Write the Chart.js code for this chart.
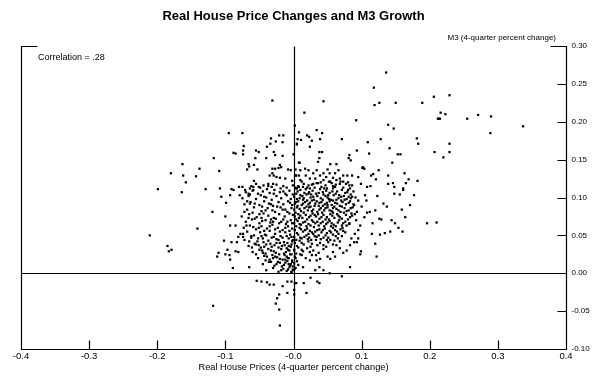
<!DOCTYPE html>
<html>
<head>
<meta charset="utf-8">
<script src="https://cdn.jsdelivr.net/npm/chart.js@4.4.0/dist/chart.umd.min.js"></script>
<style>
  body { margin: 0; background: #fff; }
  canvas { display: block; }
</style>
</head>
<body>
<canvas id="chart" width="600" height="388"></canvas>
<script>
// axis ticks
const xTicks = [-0.4, -0.3, -0.2, -0.1, 0, 0.1, 0.2, 0.3, 0.4];
const xTickLabels = ["-0.4", "-0.3", "-0.2", "-0.1", "-0.0", "0.1", "0.2", "0.3", "0.4"];
const yTicks = [-0.10, -0.05, 0, 0.05, 0.10, 0.15, 0.20, 0.25, 0.30];
const yTickLabels = ["-0.10", "-0.05", "0.00", "0.05", "0.10", "0.15", "0.20", "0.25", "0.30"];

// [house price change, M3 growth]
const upperLeft = [
  [-0.031,0.228],[-0.095,0.185],[-0.075,0.185],[0.002,0.195],[0.008,0.186],[-0.021,0.182],[-0.015,0.182],
  [-0.033,0.178],[-0.026,0.174],[-0.016,0.173],[0.006,0.177],[0.005,0.170],[-0.073,0.168],[-0.074,0.162],
  [-0.088,0.159],[-0.085,0.158],[-0.074,0.157],[-0.055,0.162],[-0.051,0.160],[-0.039,0.167],[-0.029,0.160],
  [-0.027,0.156],[-0.016,0.155],[0.000,0.157],[-0.056,0.152],[-0.040,0.152],[-0.117,0.152],[-0.163,0.144],
  [-0.138,0.138],[-0.109,0.135],[-0.180,0.132],[-0.162,0.129],[-0.143,0.128],[-0.158,0.120],[-0.066,0.144],
  [-0.065,0.141],[-0.058,0.143],[-0.068,0.137],[-0.053,0.137],[-0.031,0.138],[-0.027,0.138],[-0.022,0.139],
  [-0.008,0.137],[-0.004,0.136],[0.003,0.137],[0.008,0.146],[-0.035,0.129],[-0.031,0.132],[-0.029,0.129],
  [-0.025,0.127],[-0.020,0.126],[-0.012,0.125],[-0.002,0.122],[0.003,0.129],[0.008,0.129],[-0.058,0.122],
  [-0.037,0.115],[-0.030,0.118],[-0.025,0.117],[-0.015,0.115],[-0.051,0.114],[-0.059,0.114],[-0.062,0.115],
  [-0.075,0.114],[-0.080,0.114],[-0.108,0.112],[-0.129,0.111],[-0.091,0.111],[-0.199,0.111],[0.003,0.113],
  [-0.034,0.171],[-0.020,0.143],[-0.018,0.140],
  [-0.164,0.107],[-0.106,0.101],[-0.093,0.103],[-0.088,0.110],[-0.079,0.103],[-0.071,0.110],[-0.066,0.105],
  [-0.059,0.110],[-0.064,0.092],[-0.099,0.093],[-0.119,0.081],[-0.100,0.075],[-0.141,0.059],[-0.093,0.063],
  [-0.085,0.063],[-0.211,0.050],[-0.185,0.036],[-0.179,0.031],[-0.183,0.029],[-0.102,0.043],[-0.091,0.041],
  [-0.083,0.041],[-0.081,0.048],[-0.074,0.052],[-0.110,0.027],[-0.112,0.022],[-0.097,0.031],[-0.100,0.025],
  [-0.094,0.024],[-0.093,0.018],[-0.085,0.029],[-0.081,0.028],[-0.089,0.007],[-0.118,-0.043],[-0.065,0.008],
  [-0.064,0.112],[-0.055,0.118],[-0.049,0.113],[-0.044,0.116],[-0.039,0.111],[-0.037,0.118],[-0.032,0.114],
  [-0.019,0.112],[-0.010,0.113],[-0.001,0.116],[0.005,0.112]
];

const upperRight = [
  [0.136,0.265],[0.118,0.245],[0.044,0.227],[0.016,0.212],[0.119,0.222],[0.126,0.225],[0.150,0.225],
  [0.189,0.225],[0.206,0.233],[0.213,0.204],[0.092,0.202],[0.139,0.196],[0.147,0.191],[0.034,0.189],
  [0.042,0.185],[0.020,0.182],[0.023,0.180],[0.027,0.175],[0.011,0.176],[0.005,0.171],[0.039,0.177],
  [0.071,0.177],[0.024,0.167],[0.109,0.173],[0.128,0.177],[0.181,0.178],[0.183,0.171],[0.207,0.160],
  [0.141,0.165],[0.093,0.162],[0.111,0.158],[0.038,0.160],[0.042,0.160],[0.153,0.157],[0.157,0.157],
  [0.082,0.156],[0.081,0.152],[0.084,0.149],[0.038,0.152],[0.036,0.147],[0.145,0.146],[0.009,0.146],
  [0.054,0.144],[0.063,0.144],[0.102,0.140],[0.104,0.138],[0.101,0.139],[0.125,0.136],[0.163,0.132],
  [0.114,0.129],[0.117,0.131],[0.086,0.129],[0.079,0.129],[0.095,0.127],[0.121,0.124],[0.139,0.129],
  [0.169,0.124],[0.165,0.119],[0.182,0.122],[0.146,0.119],[0.139,0.118],[0.099,0.118],[0.082,0.116],
  [0.108,0.114],[0.113,0.115],[0.148,0.114],[0.161,0.112],
  [0.004,0.129],[0.010,0.136],[0.017,0.138],[0.022,0.136],[0.018,0.129],[0.024,0.125],[0.029,0.132],
  [0.034,0.136],[0.039,0.129],[0.044,0.132],[0.050,0.137],[0.053,0.132],[0.058,0.126],[0.061,0.132],
  [0.066,0.136],[0.068,0.125],[0.063,0.123],[0.054,0.121],[0.044,0.123],[0.036,0.119],[0.029,0.118],
  [0.022,0.116],[0.014,0.114],[0.007,0.115],[0.024,0.112],[0.041,0.114],[0.049,0.112],[0.058,0.115],
  [0.068,0.118],[0.073,0.121],[0.010,0.123],[0.073,0.129],[0.032,0.125],[0.048,0.127],
  [0.229,0.235],[0.216,0.212],[0.223,0.210],[0.212,0.204],[0.215,0.204],[0.255,0.204],[0.271,0.209],
  [0.290,0.207],[0.337,0.194],[0.289,0.185],[0.229,0.171],[0.229,0.160],[0.220,0.153],[0.161,0.110]
];

const lowerRight = [
  [0.105,0.103],[0.123,0.102],[0.148,0.105],[0.156,0.104],[0.177,0.103],[0.132,0.092],[0.137,0.088],
  [0.171,0.090],[0.112,0.081],[0.108,0.080],[0.120,0.083],[0.159,0.084],[0.126,0.072],[0.129,0.071],
  [0.144,0.070],[0.149,0.066],[0.164,0.074],[0.196,0.066],[0.210,0.067],[0.154,0.060],[0.160,0.055],
  [0.116,0.066],[0.115,0.052],[0.127,0.051],[0.134,0.053],[0.142,0.055],[0.120,0.039],[0.122,0.022],
  [0.098,0.025],[0.099,0.029],[0.093,0.041],[0.095,0.046],[0.083,0.008],[0.073,0.027],[0.061,0.022],
  [0.071,-0.004],[0.053,0.000],[0.044,0.004],[0.038,0.008],[0.032,0.004],[0.034,0.017],[0.039,0.019],
  [0.024,0.017],[0.012,0.024],[0.014,0.008],[0.007,0.011],[0.025,-0.006],[0.035,-0.011],[0.038,-0.013],
  [0.015,-0.013],[0.002,-0.013],[0.019,-0.026],[0.001,-0.022],[0.001,-0.028],
  [0.095,0.057],[0.090,0.052],[0.098,0.063],[0.085,0.046],[0.089,0.041],[0.083,0.037],[0.078,0.030],
  [0.068,0.033],[0.058,0.028],[0.063,0.037],[0.054,0.019],[0.050,0.022],
  [0.080,0.110],[0.084,0.099],[0.088,0.091],[0.095,0.096],[0.100,0.088],[0.104,0.074],[0.085,0.079],
  [0.092,0.070],[0.082,0.066],[0.093,0.081],[0.107,0.096]
];

const belowZero = [
  [-0.054,-0.010],[-0.047,-0.011],[-0.039,-0.012],[-0.035,-0.015],[-0.029,-0.015],[-0.016,-0.017],
  [-0.009,-0.011],[-0.003,-0.011],[0.004,-0.013],[-0.021,-0.028],[-0.024,-0.033],[-0.026,-0.040],
  [-0.021,-0.048],[-0.020,-0.069],[-0.009,-0.026]
];

const coreLeft = [
  [-0.070,0.107],[-0.060,0.109],[-0.052,0.105],[-0.045,0.108],[-0.035,0.106],[-0.028,0.110],[-0.020,0.107],[-0.012,0.105],[-0.006,0.109],
  [-0.075,0.099],[-0.066,0.102],[-0.055,0.098],[-0.048,0.103],[-0.040,0.100],[-0.032,0.097],[-0.025,0.102],[-0.018,0.099],[-0.010,0.103],[-0.004,0.098],
  [-0.072,0.091],[-0.063,0.094],[-0.050,0.090],[-0.043,0.095],[-0.036,0.092],[-0.030,0.089],[-0.022,0.094],[-0.015,0.091],[-0.008,0.095],[-0.002,0.090],
  [-0.068,0.084],[-0.058,0.087],[-0.047,0.082],[-0.038,0.086],[-0.031,0.083],[-0.024,0.088],[-0.016,0.084],[-0.009,0.081],[-0.003,0.086],
  [-0.076,0.075],[-0.065,0.078],[-0.054,0.074],[-0.044,0.079],[-0.037,0.076],[-0.029,0.073],[-0.021,0.078],[-0.013,0.075],[-0.006,0.079],
  [-0.070,0.068],[-0.061,0.071],[-0.050,0.066],[-0.041,0.070],[-0.034,0.067],[-0.026,0.072],[-0.018,0.068],[-0.011,0.065],[-0.004,0.070],
  [-0.073,0.060],[-0.064,0.063],[-0.055,0.058],[-0.047,0.062],[-0.039,0.059],[-0.031,0.064],[-0.023,0.060],[-0.016,0.057],[-0.008,0.062],[-0.002,0.059],
  [-0.078,0.052],[-0.068,0.055],[-0.058,0.050],[-0.049,0.054],[-0.042,0.051],[-0.035,0.056],[-0.027,0.052],[-0.019,0.049],[-0.012,0.054],[-0.005,0.051],
  [-0.072,0.044],[-0.062,0.047],[-0.053,0.042],[-0.045,0.046],[-0.037,0.043],[-0.029,0.048],[-0.022,0.044],[-0.014,0.041],[-0.007,0.046],
  [-0.066,0.036],[-0.057,0.039],[-0.048,0.034],[-0.040,0.038],[-0.032,0.035],[-0.025,0.040],[-0.017,0.036],[-0.010,0.033],[-0.003,0.038],
  [-0.060,0.028],[-0.050,0.031],[-0.041,0.026],[-0.033,0.030],[-0.026,0.027],[-0.018,0.032],[-0.011,0.028],[-0.005,0.025],
  [-0.052,0.020],[-0.043,0.023],[-0.035,0.018],[-0.027,0.022],[-0.020,0.019],[-0.013,0.024],[-0.007,0.020],[-0.002,0.017],
  [-0.045,0.012],[-0.036,0.015],[-0.028,0.010],[-0.020,0.014],[-0.014,0.011],[-0.009,0.016],[-0.004,0.012],[-0.001,0.009],
  [-0.040,0.004],[-0.030,0.007],[-0.022,0.002],[-0.015,0.006],[-0.010,0.003],[-0.006,0.008],[-0.003,0.001],
  [-0.006,0.030],[-0.003,0.025],[-0.008,0.020],[-0.002,0.015],[-0.005,0.010],[-0.001,0.005],[-0.004,0.035],
  [-0.009,0.040],[-0.002,0.042],[-0.007,0.012],[-0.003,0.002],[0.002,0.006],[0.001,0.030],[0.003,0.020],
  [-0.057,0.072],[-0.046,0.069],[-0.033,0.071],[-0.021,0.066],[-0.009,0.068],
  [-0.059,0.061],[-0.043,0.056],[-0.027,0.058],[-0.012,0.060],
  [-0.062,0.049],[-0.052,0.046],[-0.040,0.050],[-0.025,0.045],[-0.016,0.047],[-0.003,0.048],
  [-0.055,0.038],[-0.044,0.041],[-0.034,0.039],[-0.020,0.040],[-0.013,0.037],
  [-0.046,0.030],[-0.037,0.032],[-0.029,0.029],[-0.022,0.034],[-0.014,0.026],[-0.008,0.031],
  [-0.039,0.022],[-0.031,0.024],[-0.024,0.021],[-0.016,0.018],[-0.010,0.022],
  [-0.033,0.015],[-0.025,0.012],[-0.017,0.009],[-0.012,0.014],
  [-0.064,0.104],[-0.043,0.101],[-0.029,0.105],[-0.015,0.108],[-0.001,0.104],
  [-0.068,0.095],[-0.057,0.092],[-0.046,0.088],[-0.033,0.091],[-0.019,0.087],[-0.005,0.093],
  [-0.072,0.081],[-0.060,0.080],[-0.050,0.078],[-0.041,0.083],[-0.027,0.081],[-0.012,0.084],[-0.001,0.077],
  [-0.066,0.073],[-0.047,0.073],[-0.030,0.068],[-0.015,0.071],[-0.002,0.066],
  [-0.069,0.063],[-0.051,0.060],[-0.035,0.062],[-0.020,0.055],[-0.006,0.056],
  [-0.074,0.048],[-0.065,0.042],[-0.047,0.049],[-0.032,0.047],[-0.010,0.049],[-0.001,0.044],
  [-0.061,0.034],[-0.051,0.037],[-0.043,0.035],[-0.028,0.037],[-0.007,0.036],
  [-0.055,0.025],[-0.045,0.027],[-0.030,0.020],[-0.021,0.025],[-0.012,0.018],
  [-0.041,0.017],[-0.023,0.015],[-0.008,0.005],[-0.018,0.004]
];

const coreRight = [
  [0.012,0.121],[0.027,0.117],[0.040,0.120],[0.047,0.116],[0.056,0.119],[0.062,0.117],[0.069,0.121],[0.077,0.118],[0.086,0.116],
  [0.003,0.112],[0.006,0.108],[0.010,0.110],[0.016,0.106],[0.020,0.113],[0.023,0.107],[0.028,0.109],[0.033,0.105],[0.039,0.111],
  [0.043,0.107],[0.048,0.109],[0.053,0.106],[0.058,0.112],[0.064,0.108],[0.071,0.110],[0.076,0.106],[0.083,0.112],[0.088,0.108],
  [0.001,0.101],[0.005,0.098],[0.010,0.103],[0.015,0.099],[0.019,0.104],[0.025,0.100],[0.030,0.097],[0.035,0.102],[0.040,0.099],
  [0.044,0.104],[0.050,0.100],[0.055,0.097],[0.059,0.103],[0.066,0.099],[0.074,0.102],[0.078,0.098],[0.084,0.104],[0.091,0.100],
  [0.002,0.092],[0.007,0.095],[0.012,0.090],[0.017,0.094],[0.022,0.091],[0.027,0.096],[0.032,0.092],[0.037,0.089],[0.041,0.094],
  [0.046,0.091],[0.053,0.095],[0.056,0.090],[0.061,0.093],[0.068,0.089],[0.072,0.094],[0.077,0.091],[0.083,0.095],[0.089,0.090],
  [0.001,0.084],[0.005,0.087],[0.011,0.082],[0.016,0.086],[0.021,0.083],[0.025,0.088],[0.029,0.084],[0.035,0.081],[0.040,0.086],
  [0.045,0.083],[0.050,0.087],[0.056,0.082],[0.063,0.085],[0.069,0.081],[0.075,0.086],[0.081,0.083],[0.087,0.087],
  [0.002,0.075],[0.007,0.078],[0.013,0.073],[0.018,0.077],[0.023,0.074],[0.028,0.079],[0.033,0.075],[0.038,0.072],[0.044,0.077],
  [0.049,0.074],[0.054,0.078],[0.060,0.073],[0.066,0.076],[0.071,0.072],[0.077,0.077],[0.083,0.074],[0.090,0.078],
  [0.001,0.066],[0.006,0.069],[0.011,0.064],[0.017,0.068],[0.022,0.065],[0.027,0.070],[0.032,0.066],[0.037,0.063],[0.043,0.068],
  [0.048,0.065],[0.053,0.069],[0.059,0.064],[0.065,0.067],[0.071,0.063],[0.076,0.068],[0.082,0.065],
  [0.002,0.057],[0.009,0.060],[0.014,0.055],[0.020,0.059],[0.024,0.056],[0.030,0.061],[0.035,0.057],[0.041,0.054],[0.046,0.059],
  [0.053,0.056],[0.058,0.060],[0.064,0.055],[0.069,0.058],[0.076,0.054],
  [0.001,0.048],[0.007,0.051],[0.012,0.046],[0.019,0.050],[0.023,0.047],[0.029,0.052],[0.034,0.048],[0.040,0.045],[0.047,0.050],
  [0.051,0.047],[0.058,0.051],[0.065,0.046],[0.071,0.049],
  [0.002,0.040],[0.009,0.043],[0.015,0.038],[0.022,0.042],[0.027,0.039],[0.033,0.044],[0.039,0.040],[0.044,0.037],[0.051,0.041],[0.058,0.038],
  [0.001,0.031],[0.007,0.034],[0.014,0.029],[0.020,0.033],[0.029,0.030],[0.037,0.027],[0.044,0.032],
  [0.002,0.022],[0.010,0.025],[0.018,0.020],[0.027,0.024],[0.001,0.013],[0.005,0.016],[0.000,0.004],[0.003,0.007],
  [0.008,0.114],[0.018,0.111],[0.031,0.113],[0.045,0.112],[0.061,0.114],[0.073,0.113],
  [0.004,0.105],[0.013,0.102],[0.022,0.105],[0.037,0.106],[0.051,0.103],[0.062,0.105],[0.070,0.101],[0.081,0.101],
  [0.004,0.094],[0.014,0.097],[0.024,0.093],[0.034,0.095],[0.043,0.097],[0.049,0.093],[0.058,0.096],[0.064,0.092],[0.075,0.097],
  [0.003,0.080],[0.009,0.085],[0.019,0.088],[0.027,0.082],[0.038,0.084],[0.047,0.086],[0.053,0.083],[0.060,0.088],[0.066,0.083],[0.078,0.082],
  [0.004,0.071],[0.010,0.076],[0.020,0.071],[0.031,0.077],[0.041,0.074],[0.052,0.071],[0.057,0.076],[0.068,0.074],[0.080,0.071],
  [0.004,0.062],[0.014,0.067],[0.025,0.063],[0.035,0.068],[0.045,0.062],[0.056,0.066],[0.062,0.062],[0.073,0.066],
  [0.005,0.053],[0.017,0.057],[0.027,0.054],[0.038,0.058],[0.049,0.053],[0.061,0.057],[0.072,0.060],
  [0.004,0.044],[0.016,0.048],[0.026,0.044],[0.037,0.050],[0.054,0.044],[0.062,0.049],
  [0.015,0.118],[0.034,0.119],[0.052,0.121],[0.080,0.120],
  [0.026,0.104],[0.047,0.102],[0.057,0.108],[0.067,0.103],[0.079,0.107],[0.086,0.101],
  [0.009,0.099],[0.020,0.096],[0.029,0.101],[0.038,0.093],[0.052,0.098],[0.063,0.097],[0.070,0.096],[0.081,0.093],
  [0.006,0.089],[0.014,0.092],[0.023,0.087],[0.031,0.089],[0.043,0.089],[0.050,0.090],[0.058,0.086],[0.071,0.088],[0.084,0.086],
  [0.008,0.073],[0.015,0.080],[0.025,0.076],[0.036,0.078],[0.042,0.080],[0.047,0.071],[0.058,0.080],[0.064,0.078],[0.074,0.080],[0.086,0.076],
  [0.009,0.065],[0.019,0.062],[0.029,0.068],[0.040,0.066],[0.050,0.067],[0.055,0.062],[0.067,0.070],[0.078,0.063],
  [0.011,0.058],[0.022,0.052],[0.032,0.055],[0.043,0.057],[0.055,0.054],[0.066,0.052],[0.073,0.056],
  [0.010,0.047],[0.021,0.045],[0.031,0.049],[0.044,0.047],[0.049,0.044],[0.060,0.043],[0.068,0.042],
  [0.005,0.036],[0.012,0.040],[0.025,0.035],[0.035,0.037],[0.048,0.035],
  [0.004,0.026],[0.012,0.031],[0.024,0.028],[0.033,0.024]
];

const observations = [...upperLeft, ...upperRight, ...lowerRight, ...belowZero, ...coreLeft, ...coreRight]
  .map(([x, y]) => ({ x, y }));

const FONT = "'Liberation Sans', Arial, sans-serif";

// axes, inner ticks, zero lines and texts
const frame = {
  id: "frame",
  afterDatasetsDraw(chart) {
    const { ctx, chartArea: { left, right, top, bottom }, scales: { x, y } } = chart;
    const x0 = Math.round(x.getPixelForValue(0)) + 0.5;
    const y0 = Math.round(y.getPixelForValue(0)) + 0.5;
    const l = Math.round(left) + 0.5, r = Math.round(right) + 0.5;
    const t = Math.round(top) + 0.5, b = Math.round(bottom) + 0.5;

    ctx.save();
    ctx.strokeStyle = "#000";
    ctx.lineWidth = 1.2;
    ctx.beginPath();
    ctx.moveTo(l + 16, t); ctx.lineTo(l, t); ctx.lineTo(l, b); ctx.lineTo(r, b); ctx.lineTo(r, t); ctx.lineTo(r - 16, t);
    ctx.moveTo(x0, t); ctx.lineTo(x0, b);
    ctx.moveTo(l, y0); ctx.lineTo(r, y0);
    xTicks.forEach((v) => {
      const px = Math.round(x.getPixelForValue(v)) + 0.5;
      ctx.moveTo(px, b); ctx.lineTo(px, b - 9);
    });
    yTicks.forEach((v) => {
      const py = Math.round(y.getPixelForValue(v)) + 0.5;
      ctx.moveTo(r, py); ctx.lineTo(r - 9, py);
    });
    ctx.stroke();

    ctx.fillStyle = "#000";
    ctx.font = `9.5px ${FONT}`;
    ctx.textAlign = "center";
    ctx.textBaseline = "top";
    xTicks.forEach((v, i) => {
      ctx.fillText(xTickLabels[i], x.getPixelForValue(v), b + 2);
    });

    ctx.font = `8px ${FONT}`;
    ctx.textAlign = "left";
    ctx.textBaseline = "middle";
    yTicks.forEach((v, i) => {
      ctx.fillText(yTickLabels[i], r + 5, y.getPixelForValue(v));
    });

    ctx.font = `9.3px ${FONT}`;
    ctx.textAlign = "center";
    ctx.textBaseline = "alphabetic";
    ctx.fillText("Real House Prices (4-quarter percent change)", (left + right) / 2, 370);

    ctx.font = `8px ${FONT}`;
    ctx.textAlign = "right";
    ctx.fillText("M3 (4-quarter percent change)", right - 10, 40);

    ctx.font = `9px ${FONT}`;
    ctx.textAlign = "left";
    ctx.fillText("Correlation = .28", left + 17, 60);

    ctx.font = `bold 13px ${FONT}`;
    ctx.textAlign = "center";
    ctx.fillText("Real House Price Changes and M3 Growth", (left + right) / 2, 20);
    ctx.restore();
  },
};

new Chart(document.getElementById("chart"), {
  type: "scatter",
  data: {
    datasets: [
      {
        data: observations,
        pointStyle: "rect",
        pointRadius: 1.6,
        pointHoverRadius: 1.6,
        backgroundColor: "#000",
        borderWidth: 0,
      },
    ],
  },
  options: {
    responsive: false,
    animation: false,
    layout: { padding: { left: 21, right: 34, top: 46, bottom: 39 } },
    scales: {
      x: { type: "linear", min: -0.4, max: 0.4, display: false },
      y: { type: "linear", min: -0.1, max: 0.3, display: false },
    },
    plugins: {
      legend: { display: false },
      tooltip: { enabled: false },
    },
  },
  plugins: [frame],
});
</script>
</body>
</html>
